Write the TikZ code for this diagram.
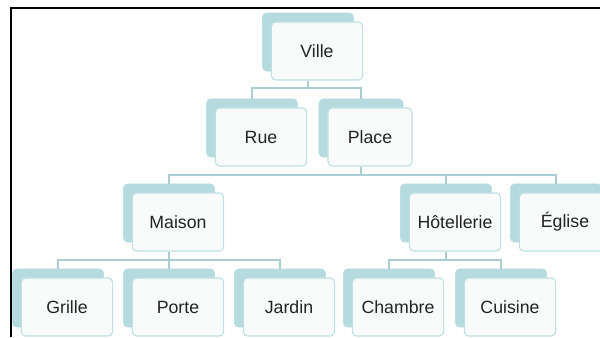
\documentclass[tikz,border=0pt]{standalone}
\usepackage{fontspec}
\setmainfont{Liberation Sans}
\usetikzlibrary{positioning}

\definecolor{shade}{HTML}{B5DBDF}
\definecolor{cardfill}{HTML}{F9FBFB}
\definecolor{cardline}{HTML}{BEE0E4}
\definecolor{linkcol}{HTML}{A9CDD2}
\definecolor{ink}{HTML}{222222}

\begin{document}
\begin{tikzpicture}[
  x=0.025cm, y=-0.025cm,
  font=\fontsize{12.6}{15}\selectfont,
  back/.style={rectangle, rounded corners=3pt, fill=shade, draw=shade,
               minimum width=2.28cm, minimum height=1.45cm, inner sep=0pt},
  card/.style={rectangle, rounded corners=3pt, fill=cardfill, draw=cardline, line width=0.8pt,
               minimum width=2.28cm, minimum height=1.45cm, inner sep=0pt, text=ink},
  link/.style={draw=linkcol, line width=1.4pt},
  frame/.style={draw=black, line width=1.9pt}
]
\useasboundingbox (0,0) rectangle (600,337);
\clip (0,0) rectangle (600,337);

% top level
\node[back] (villeb) at (308,42) {};
\node[card] (ville) at ([shift={(9,9)}]villeb) {Ville};

% second level
\node[back] (rueb) at (252,128) {};
\node[card] (rue) at ([shift={(9,9)}]rueb) {Rue};
\node[back, minimum width=2.1cm] (placeb) at (361,128) {};
\node[card, minimum width=2.1cm] (place) at ([shift={(9,9)}]placeb) {Place};

% third level
\node[back] (maisonb) at (169,213) {};
\node[card] (maison) at ([shift={(9,9)}]maisonb) {Maison};
\node[back] (hotelb) at (446,213) {};
\node[card] (hotel) at ([shift={(9,9)}]hotelb) {Hôtellerie};
\node[back] (egliseb) at (556,213) {};
\node[card] (eglise) at ([shift={(9,9)}]egliseb) {Église};

% fourth level
\node[back] (grilleb) at (58,298) {};
\node[card] (grille) at ([shift={(9,9)}]grilleb) {Grille};
\node[back] (porteb) at (169,298) {};
\node[card] (porte) at ([shift={(9,9)}]porteb) {Porte};
\node[back] (jardinb) at (280,298) {};
\node[card] (jardin) at ([shift={(9,9)}]jardinb) {Jardin};
\node[back] (chambreb) at (389,298) {};
\node[card] (chambre) at ([shift={(9,9)}]chambreb) {Chambre};
\node[back] (cuisineb) at (501,298) {};
\node[card] (cuisine) at ([shift={(9,9)}]cuisineb) {Cuisine};

% bus lines
\coordinate (bus0) at (0,88);
\coordinate (bus1) at (0,175);
\coordinate (bus2) at (0,260);

\draw[link] (villeb |- ville.south) -- (villeb |- bus0) -| (rueb.north);
\draw[link] (villeb |- bus0) -| (placeb.north);

\draw[link] (placeb |- place.south) -- (placeb |- bus1) -| (maisonb.north);
\draw[link] (placeb |- bus1) -| (hotelb.north);
\draw[link] (placeb |- bus1) -| (egliseb.north);

\draw[link] (maisonb |- maison.south) -- (maisonb |- bus2) -| (grilleb.north);
\draw[link] (maisonb |- bus2) -| (porteb.north);
\draw[link] (maisonb |- bus2) -| (jardinb.north);

\draw[link] (hotelb |- hotel.south) -- (hotelb |- bus2) -| (chambreb.north);
\draw[link] (hotelb |- bus2) -| (cuisineb.north);

% frame
\draw[frame] (11,337) -- (11,8) -- (600,8);

\end{tikzpicture}
\end{document}
